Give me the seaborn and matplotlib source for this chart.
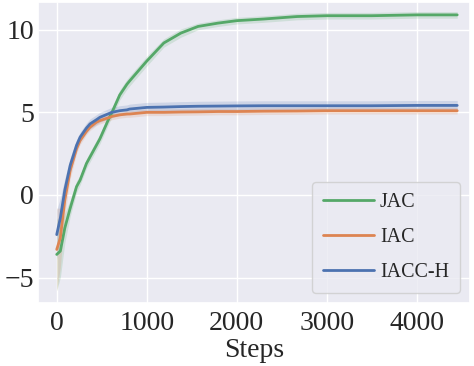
import numpy as np
import pandas as pd
import matplotlib
matplotlib.use("Agg")
import matplotlib.pyplot as plt
import seaborn as sns

sns.set_theme(style="darkgrid")
plt.rcParams["font.family"] = ["Liberation Serif", "DejaVu Serif"]
plt.rcParams["mathtext.fontset"] = "stix"

# training steps at which the curves were read
steps = [0, 40, 90, 150, 220, 260, 330, 370, 440, 480, 590, 610, 700, 780, 810,
         1000, 1190, 1380, 1570, 1790, 2000, 2300, 2670, 3000, 3500, 4000, 4450]

jac = [-3.6, -3.4, -2.0, -0.8, 0.5, 0.9, 1.9, 2.3, 3.0, 3.4, 4.75, 4.95, 6.05, 6.7, 6.9,
       8.1, 9.2, 9.8, 10.2, 10.4, 10.55, 10.65, 10.8, 10.85, 10.85, 10.9, 10.9]
iac = [-3.3, -2.6, -0.3, 1.5, 2.8, 3.3, 3.85, 4.1, 4.4, 4.5, 4.7, 4.75, 4.85, 4.9, 4.9,
       5.0, 5.0, 5.02, 5.03, 5.05, 5.05, 5.07, 5.08, 5.1, 5.1, 5.1, 5.1]
iacc_h = [-2.4, -1.4, 0.3, 1.8, 3.0, 3.5, 4.05, 4.3, 4.55, 4.7, 4.95, 5.0, 5.1, 5.15, 5.2,
          5.3, 5.32, 5.35, 5.37, 5.38, 5.39, 5.4, 5.4, 5.4, 5.4, 5.42, 5.42]

# half-width of the shaded band around each mean
jac_sd = [2.2, 1.6, 0.9, 0.5, 0.35, 0.3, 0.3, 0.3, 0.3, 0.3, 0.3, 0.3, 0.3, 0.3, 0.3,
          0.3, 0.25, 0.25, 0.2, 0.2, 0.2, 0.2, 0.2, 0.2, 0.2, 0.2, 0.2]
iac_sd = [2.5, 1.8, 0.9, 0.5, 0.3, 0.25, 0.2, 0.2, 0.2, 0.2, 0.2, 0.2, 0.2, 0.2, 0.2,
          0.2, 0.2, 0.2, 0.2, 0.2, 0.2, 0.2, 0.2, 0.2, 0.2, 0.2, 0.2]
iacc_h_sd = [1.5, 1.2, 0.7, 0.45, 0.35, 0.3, 0.3, 0.3, 0.3, 0.3, 0.3, 0.3, 0.3, 0.3, 0.3,
             0.3, 0.3, 0.3, 0.3, 0.3, 0.3, 0.3, 0.3, 0.3, 0.3, 0.3, 0.3]

labels = ["JAC", "IAC", "IACC-H"]
palette = sns.color_palette("deep")
colors = {"JAC": palette[2], "IAC": palette[1], "IACC-H": palette[0]}

rows = []
for name, mean, sd in zip(labels, [jac, iac, iacc_h], [jac_sd, iac_sd, iacc_h_sd]):
    for s, m, e in zip(steps, mean, sd):
        rows.append({"Steps": s, "Return": m, "sd": e, "Method": name})
df = pd.DataFrame(rows)

fig, ax = plt.subplots(figsize=(4.74, 3.66), dpi=100)
fig.subplots_adjust(left=38 / 474, right=470 / 474, top=1 - 2 / 366, bottom=1 - 303 / 366)

for name in labels:
    d = df[df["Method"] == name]
    ax.fill_between(d["Steps"], d["Return"] - d["sd"], d["Return"] + d["sd"],
                    color=colors[name], alpha=0.18, linewidth=0)

sns.lineplot(data=df, x="Steps", y="Return", hue="Method", hue_order=labels,
             palette=colors, linewidth=2, ax=ax)

ax.set_xlim(-208, 4592)
ax.set_ylim(-6.54, 11.68)
ax.set_xticks([0, 1000, 2000, 3000, 4000])
ax.set_yticks([-5, 0, 5, 10])
ax.set_xlabel("Steps", fontsize=20, labelpad=1)
ax.set_ylabel("")
ax.tick_params(axis="x", labelsize=20, length=0, pad=6)
ax.tick_params(axis="y", labelsize=20, length=0, pad=3)

leg = ax.legend(loc="lower right", fontsize=14.4, handlelength=2.55,
                handletextpad=0.3, labelspacing=0.8, borderpad=0.55)
for line in leg.get_lines():
    line.set_linewidth(2)

fig.savefig("out.png", dpi=100)
